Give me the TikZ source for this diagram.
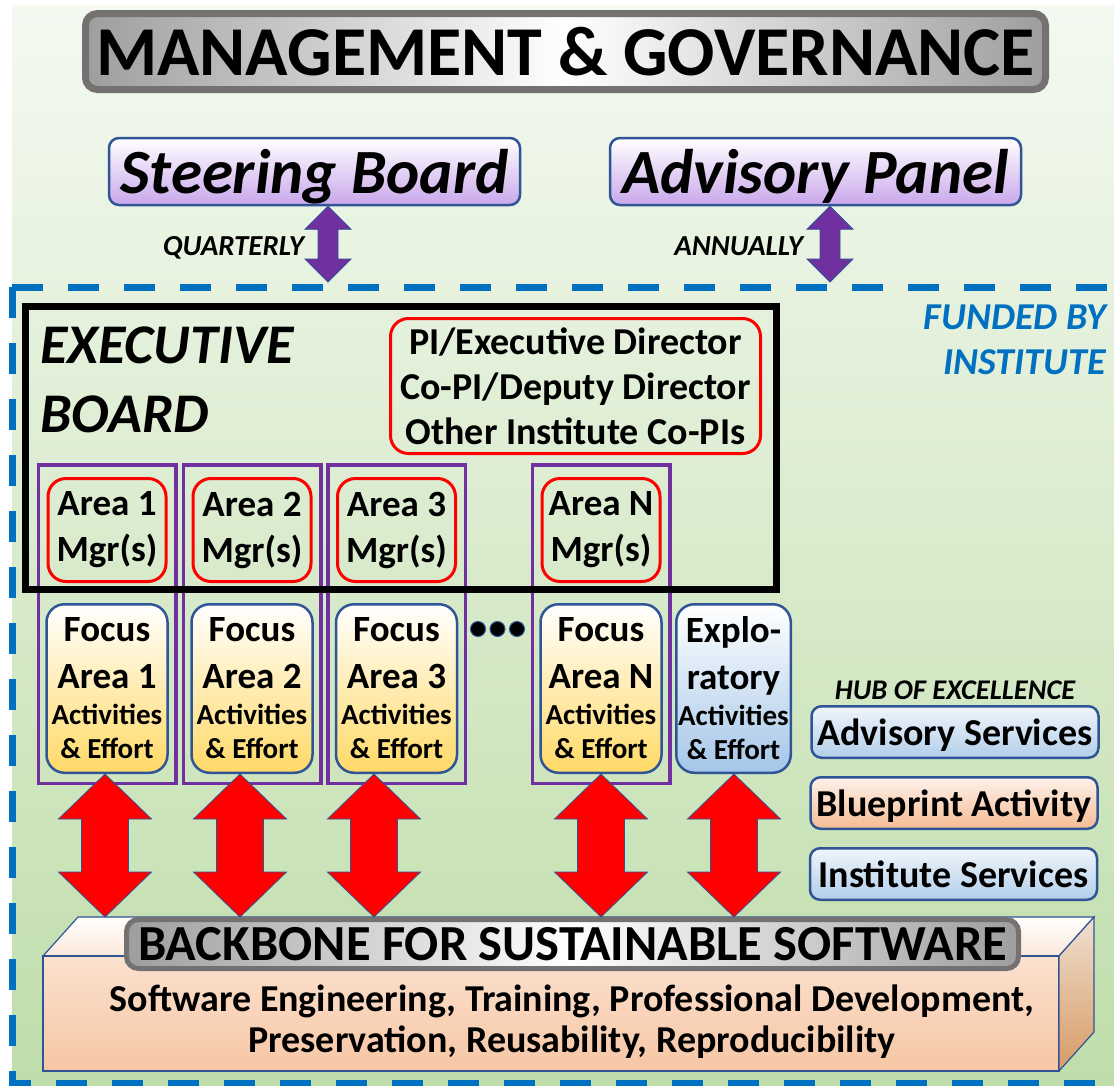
\documentclass[tikz,border=0pt]{standalone}
\usepackage{fontspec}
\setmainfont{Carlito}
\usetikzlibrary{calc}

\definecolor{govgray}{HTML}{767171}
\definecolor{boardblue}{HTML}{2F5597}
\definecolor{lavender}{HTML}{C9A7EB}
\definecolor{execpurple}{HTML}{7030A0}
\definecolor{fundblue}{HTML}{0070C0}
\definecolor{focusgold}{HTML}{FFD966}
\definecolor{explblue}{HTML}{A4C6E8}
\definecolor{hubblue}{HTML}{B2CEEA}
\definecolor{hubpeach}{HTML}{F5BC94}
\definecolor{bgtop}{HTML}{F4F9F1}
\definecolor{bgbottom}{HTML}{BFDDAA}

\newcommand\fsz[2]{\fontsize{#1}{#2}\selectfont}
% big block arrow with a head at both ends: top tip, bottom tip, half shaft, half head, head length, style
\newcommand\dblarrow[6]{%
  \draw[#6] (#1) -- ($(#1)+(#4,#5)$) -- ($(#1)+(#3,#5)$) -- ($(#2)+(#3,-#5)$)
    -- ($(#2)+(#4,-#5)$) -- (#2) -- ($(#2)+(-#4,-#5)$) -- ($(#2)+(-#3,-#5)$)
    -- ($(#1)+(-#3,#5)$) -- ($(#1)+(-#4,#5)$) -- cycle;}

\tikzset{
  banner/.style={draw=govgray, line width=#1, rounded corners=12pt, inner sep=0pt,
    left color=black!38, right color=black!38, middle color=white},
  board/.style={draw=boardblue, line width=2.5pt, rounded corners=10pt, inner sep=0pt,
    top color=white, bottom color=lavender, minimum width=411pt, minimum height=67pt,
    font=\bfseries\itshape\fsz{63}{63}, text depth=0pt},
  freq/.style={font=\bfseries\itshape\fsz{29}{29}, inner sep=0pt},
  funded/.style={draw=fundblue, line width=7pt, dash pattern=on 31pt off 25pt},
  redbox/.style={draw=red, line width=3pt, rounded corners=18pt, inner sep=0pt, align=center},
  areacol/.style={draw=execpurple, line width=3.5pt, minimum width=137.5pt, minimum height=318.5pt},
  activity/.style={draw=boardblue, line width=2.5pt, rounded corners=18pt, inner sep=0pt,
    top color=white, bottom color=#1, minimum height=168.5pt, align=center,
    font=\bfseries\fsz{37}{47}},
  hubbox/.style={draw=boardblue, line width=2.5pt, rounded corners=10pt, inner sep=0pt,
    top color=white!80!#1, bottom color=#1, minimum width=287pt, minimum height=51.5pt,
    font=\bfseries\fsz{38}{38}, text depth=0pt},
  dot/.style={circle, fill=black, draw=boardblue, line width=1pt, minimum size=15pt, inner sep=0pt},
  redarrow/.style={fill=red, draw=boardblue, line width=0.8pt},
  purplearrow/.style={fill=execpurple, draw=boardblue, line width=0.8pt},
  face/.style={draw=boardblue, line width=1.2pt}
}

\begin{document}
\begin{tikzpicture}[x=1pt,y=-1pt] % one unit = one pixel of the layout, y grows downwards
\useasboundingbox (0,0) rectangle (1114,1085);
\shade[top color=bgtop, bottom color=bgbottom] (12,5) rectangle (1114,1085);

% governance on top
\node[banner=7pt, minimum width=960pt, minimum height=76pt, font=\bfseries\fsz{70}{70}]
  (mg) at (565.5,51.5) {MANAGEMENT \& GOVERNANCE};
\node[board] (sb) at (314.5,171.5) {Steering Board};
\node[board] (ap) at (815.5,171.5) {Advisory Panel};

% institute frame
\draw[funded] (12,287) -- (1130,287);
\draw[funded] (12,287) -- (12,1083) -- (1130,1083);
\node[anchor=north east, align=right, inner sep=0pt, text=fundblue,
  font=\bfseries\itshape\fsz{38}{45}] (fund) at (1106,305) {FUNDED BY\\INSTITUTE};

\coordinate (sbend) at (328,282);
\coordinate (apend) at (830,282);
\coordinate (sbtop) at (sb.south -| sbend);
\coordinate (aptop) at (ap.south -| apend);
\dblarrow{sbtop}{sbend}{10}{23}{23}{purplearrow}
\dblarrow{aptop}{apend}{10}{23}{23}{purplearrow}
\node[freq, anchor=base east] (qtr) at (304,255) {QUARTERLY};
\node[freq, anchor=base east] (ann) at (803,255) {ANNUALLY};

% area columns and executive board
\foreach \i/\x in {1/107,2/252,3/396.5,N/601}
  \node[areacol] (col\i) at (\x,624) {};
\node[draw, line width=7pt, minimum width=751pt, minimum height=283pt] (eb) at (401,448) {};
\node[anchor=north west, align=left, inner sep=0pt, font=\bfseries\itshape\fsz{56}{69}]
  (ebl) at (40,327) {EXECUTIVE\\BOARD};
\node[redbox, minimum width=370pt, minimum height=135pt, font=\bfseries\fsz{38}{45}]
  (pi) at (575.5,386) {PI/Executive Director\\Co-PI/Deputy Director\\Other Institute Co-PIs};

\foreach \i/\x in {1/107,2/252,3/396.5,N/601} {
  \node[redbox, minimum width=118pt, minimum height=103pt, font=\bfseries\fsz{37}{46}]
    (mgr\i) at (\x,530) {Area \i\\Mgr(s)};
  \node[activity=focusgold, minimum width=121pt] (fa\i) at (\x,688.5)
    {Focus\\Area \i\\[-11pt]\fsz{29}{29}Activities\\[-13pt]\fsz{29}{29}\& Effort};
}
\node[activity=explblue, minimum width=114.5pt] (fax) at (733.5,688.5)
  {Explo-\\ratory\\[-11pt]\fsz{29}{29}Activities\\[-13pt]\fsz{29}{29}\& Effort};
\foreach \d [count=\k] in {478,497.5,517}
  \node[dot] (dot\k) at (\d,629) {};

% hub of excellence
\node[hubbox=hubblue] (advs) at (955,732) {Advisory Services};
\node[hubbox=hubpeach] (blue) at (954,803) {Blueprint Activity};
\node[hubbox=hubblue] (inss) at (953.5,874) {Institute Services};
\node[anchor=base, inner sep=0pt, font=\bfseries\itshape\fsz{28.5}{28.5}]
  (hub) at ([yshift=6pt]advs.north) {HUB OF EXCELLENCE};

% backbone block
\shade[face, top color=white, bottom color=hubpeach!35] (43,956) -- (78,917) -- (1094,917) -- (1059,956) -- cycle;
\shade[face, top color=hubpeach!45, bottom color=hubpeach!85] (43,956) rectangle (1059,1071);
\shade[face, top color=brown!25, bottom color=brown!55!hubpeach] (1059,956) -- (1094,917) -- (1094,1032) -- (1059,1071) -- cycle;
\node[banner=5pt, minimum width=892pt, minimum height=49pt, font=\bfseries\fsz{50.5}{50.5}]
  (bbl) at (572.5,944) {BACKBONE FOR SUSTAINABLE SOFTWARE};
\node[align=center, inner sep=0pt, font=\bfseries\fsz{38}{41}] (bbt) at (572,1022)
  {Software Engineering, Training, Professional Development,\\Preservation, Reusability, Reproducibility};

\foreach \i/\x in {1/105,2/240,3/374,N/601,x/734} {
  \coordinate (bb\i) at (\x,917);
  \coordinate (ft\i) at (fa\i.south -| bb\i);
  \dblarrow{ft\i}{bb\i}{23.5}{46.5}{45}{redarrow}
}
\end{tikzpicture}
\end{document}
